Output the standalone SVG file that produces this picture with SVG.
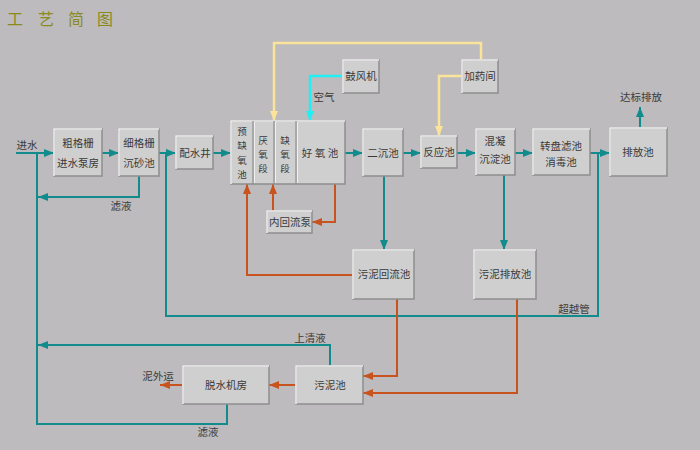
<svg xmlns="http://www.w3.org/2000/svg" width="700" height="450" viewBox="0 0 700 450">
<defs>
<style>
.box{fill:#cfcfcf;stroke:#8e8e8e;stroke-width:1.5}
.hl{fill:none;stroke:#f3f3f3;stroke-width:1.5}
.dv{stroke:#8e8e8e;stroke-width:1.2}
.dvl{stroke:#f0f0f0;stroke-width:1}
text{font-family:"Noto Sans CJK SC","Noto Sans CJK TC",sans-serif;font-size:10.5px;fill:#3a3a3a;text-anchor:middle}
.v{font-size:9.5px}
.title{font-size:16px;fill:#8a8a1e;text-anchor:start}
.t{fill:none;stroke:#128b8d;stroke-width:2}
.o{fill:none;stroke:#c8531e;stroke-width:2}
.y{fill:none;stroke:#fbe39a;stroke-width:2.5}
.c{fill:none;stroke:#1ff0f3;stroke-width:2.5}
</style>
<marker id="mt" markerUnits="userSpaceOnUse" markerWidth="10" markerHeight="10" viewBox="0 0 10 10" refX="10" refY="5" orient="auto"><path d="M0,1 L10,5 L0,9 Z" fill="#128b8d"/></marker>
<marker id="mo" markerUnits="userSpaceOnUse" markerWidth="10" markerHeight="10" viewBox="0 0 10 10" refX="10" refY="5" orient="auto"><path d="M0,1 L10,5 L0,9 Z" fill="#c8531e"/></marker>
<marker id="my" markerUnits="userSpaceOnUse" markerWidth="10" markerHeight="10" viewBox="0 0 10 10" refX="10" refY="5" orient="auto"><path d="M0,1 L10,5 L0,9 Z" fill="#fbe39a"/></marker>
<marker id="mc" markerUnits="userSpaceOnUse" markerWidth="10" markerHeight="10" viewBox="0 0 10 10" refX="10" refY="5" orient="auto"><path d="M0,1 L10,5 L0,9 Z" fill="#1ff0f3"/></marker>
</defs>
<rect width="700" height="450" fill="#bdbbbd"/>
<text class="title" x="7 38 68 97" y="25">工艺简图</text>

<g id="connectors">
<path class="t" d="M16,153 H54" marker-end="url(#mt)"/>
<path class="t" d="M227,404 V424 H37 V153"/>
<path class="t" d="M102,153 H119" marker-end="url(#mt)"/>
<path class="t" d="M139,176 V197 H38" marker-end="url(#mt)"/>
<path class="t" d="M159,153 H176" marker-end="url(#mt)"/>
<path class="t" d="M166,153 V316 H598 V153"/>
<path class="t" d="M213,153 H231" marker-end="url(#mt)"/>
<path class="t" d="M345,153 H363" marker-end="url(#mt)"/>
<path class="t" d="M403,153 H421" marker-end="url(#mt)"/>
<path class="t" d="M457,153 H476" marker-end="url(#mt)"/>
<path class="t" d="M515,153 H533" marker-end="url(#mt)"/>
<path class="t" d="M590,153 H610" marker-end="url(#mt)"/>
<path class="t" d="M640,129 V107" marker-end="url(#mt)"/>
<path class="t" d="M384,176 V250" marker-end="url(#mt)"/>
<path class="t" d="M504,175 V250" marker-end="url(#mt)"/>
<path class="t" d="M330,366 V345 H38" marker-end="url(#mt)"/>
<path class="o" d="M353,275 H247 V184" marker-end="url(#mo)"/>
<path class="o" d="M273,211 V184" marker-end="url(#mo)"/>
<path class="o" d="M335,184 V222 H312" marker-end="url(#mo)"/>
<path class="o" d="M397,299 V376 H363" marker-end="url(#mo)"/>
<path class="o" d="M517,299 V393 H363" marker-end="url(#mo)"/>
<path class="o" d="M296,385 H269" marker-end="url(#mo)"/>
<path class="o" d="M182,385 H160" marker-end="url(#mo)"/>
<path class="y" d="M481,60 V43 H274 V121" marker-end="url(#my)"/>
<path class="y" d="M462,76 H439 V136" marker-end="url(#my)"/>
<path class="c" d="M343,76 H310 V121" marker-end="url(#mc)"/>
</g>

<g id="labels">
<text x="27" y="149">进水</text>
<text x="121" y="210">滤液</text>
<text x="574" y="313">超越管</text>
<text x="324" y="101">空气</text>
<text x="641" y="101">达标排放</text>
<text x="310" y="342">上清液</text>
<text x="158" y="380">泥外运</text>
<text x="208" y="436">滤液</text>
</g>

<g id="n-cugeshan">
<rect class="box" x="54" y="129" width="48" height="47"/>
<path class="hl" d="M54,176 V129 H102"/>
<text x="78" y="147">粗格栅</text>
<text x="78" y="167">进水泵房</text>
</g>
<g id="n-xigeshan">
<rect class="box" x="119" y="129" width="40" height="47"/>
<path class="hl" d="M119,176 V129 H159"/>
<text x="139" y="147">细格栅</text>
<text x="139" y="167">沉砂池</text>
</g>
<g id="n-peishuijing">
<rect class="box" x="176" y="136" width="37" height="33"/>
<path class="hl" d="M176,169 V136 H213"/>
<text x="195" y="157">配水井</text>
</g>
<g id="n-bio">
<rect class="box" x="231" y="121" width="114" height="63"/>
<path class="hl" d="M231,184 V121 H345"/>
<line class="dv" x1="253" y1="121" x2="253" y2="184"/>
<line class="dvl" x1="254.5" y1="122" x2="254.5" y2="183"/>
<line class="dv" x1="274" y1="121" x2="274" y2="184"/>
<line class="dvl" x1="275.5" y1="122" x2="275.5" y2="183"/>
<line class="dv" x1="296" y1="121" x2="296" y2="184"/>
<line class="dvl" x1="297.5" y1="122" x2="297.5" y2="183"/>
<text class="v" x="242" y="134.5">预</text>
<text class="v" x="242" y="149">缺</text>
<text class="v" x="242" y="163.5">氧</text>
<text class="v" x="242" y="178">池</text>
<text class="v" x="263" y="144">厌</text>
<text class="v" x="263" y="158">氧</text>
<text class="v" x="263" y="172">段</text>
<text class="v" x="285" y="144">缺</text>
<text class="v" x="285" y="158">氧</text>
<text class="v" x="285" y="172">段</text>
<text x="307" y="157">好</text>
<text x="320" y="157">氧</text>
<text x="333" y="157">池</text>
</g>
<g id="n-erchenchi">
<rect class="box" x="363" y="129" width="40" height="47"/>
<path class="hl" d="M363,176 V129 H403"/>
<text x="383" y="157">二沉池</text>
</g>
<g id="n-fanyingchi">
<rect class="box" x="421" y="136" width="36" height="32"/>
<path class="hl" d="M421,168 V136 H457"/>
<text x="439" y="156">反应池</text>
</g>
<g id="n-hunning">
<rect class="box" x="476" y="129" width="39" height="46"/>
<path class="hl" d="M476,175 V129 H515"/>
<text x="495" y="145">混凝</text>
<text x="495" y="163">沉淀池</text>
</g>
<g id="n-zhuanpan">
<rect class="box" x="533" y="129" width="57" height="46"/>
<path class="hl" d="M533,175 V129 H590"/>
<text x="561" y="150">转盘滤池</text>
<text x="561" y="166">消毒池</text>
</g>
<g id="n-paifangchi">
<rect class="box" x="610" y="128" width="57" height="48"/>
<path class="hl" d="M610,176 V128 H667"/>
<text x="638" y="156">排放池</text>
</g>
<g id="n-gufengji">
<rect class="box" x="343" y="60" width="36" height="33"/>
<path class="hl" d="M343,93 V60 H379"/>
<text x="361" y="80">鼓风机</text>
</g>
<g id="n-jiayaojian">
<rect class="box" x="462" y="60" width="36" height="33"/>
<path class="hl" d="M462,93 V60 H498"/>
<text x="480" y="80">加药间</text>
</g>
<g id="n-neihuiliu">
<rect class="box" x="267" y="211" width="45" height="22"/>
<path class="hl" d="M267,233 V211 H312"/>
<text x="290" y="226">内回流泵</text>
</g>
<g id="n-wunihuiliu">
<rect class="box" x="353" y="250" width="61" height="49"/>
<path class="hl" d="M353,299 V250 H414"/>
<text x="384" y="278">污泥回流池</text>
</g>
<g id="n-wunipaifang">
<rect class="box" x="474" y="250" width="62" height="49"/>
<path class="hl" d="M474,299 V250 H536"/>
<text x="505" y="278">污泥排放池</text>
</g>
<g id="n-wunichi">
<rect class="box" x="296" y="366" width="67" height="38"/>
<path class="hl" d="M296,404 V366 H363"/>
<text x="330" y="389">污泥池</text>
</g>
<g id="n-tuoshui">
<rect class="box" x="183" y="366" width="86" height="38"/>
<path class="hl" d="M183,404 V366 H269"/>
<text x="226" y="389">脱水机房</text>
</g>
</svg>
